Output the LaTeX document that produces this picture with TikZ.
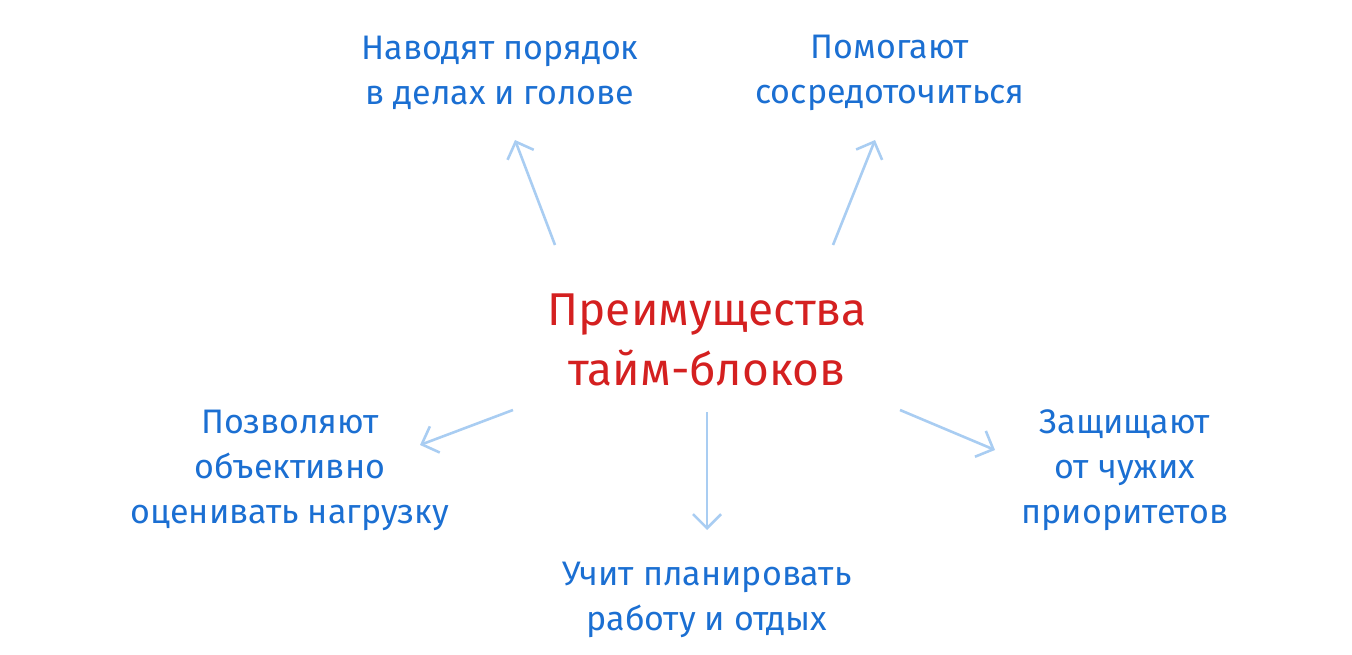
\documentclass[tikz,border=0pt]{standalone}
\usepackage{fontspec}
\setmainfont{Fira Sans}
\usetikzlibrary{arrows.meta}
\definecolor{bl}{HTML}{1B6FD2}
\definecolor{rd}{HTML}{D42020}
\definecolor{ar}{HTML}{A9CDF2}
\begin{document}
\begin{tikzpicture}[x=1pt,y=-1pt,
  lbl/.style={text=bl,font=\fontsize{34}{45}\selectfont,align=center},
  main/.style={text=rd,font=\fontsize{46}{60}\selectfont,align=center},
  arr/.style={draw=ar,line width=2.6pt,-{Straight Barb[length=14pt,width=28pt,line width=2.6pt]}}]
\useasboundingbox (0,0) rectangle (1352,655);
\node[main] (c) at (707,340) {Преимущества\\тайм-блоков};
\node[lbl] (tl) at (500,73) {Наводят порядок\\в делах и голове};
\node[lbl] (tr) at (890,73) {Помогают\\сосредоточиться};
\node[lbl] (l) at (290,470) {Позволяют\\объективно\\оценивать нагрузку};
\node[lbl] (r) at (1125,470) {Защищают\\от чужих\\приоритетов};
\node[lbl] (b) at (707,600) {Учит планировать\\работу и отдых};
\coordinate (a1s) at (555,245); \coordinate (a1e) at (515,140);
\coordinate (a2s) at (833,245); \coordinate (a2e) at (875,140);
\coordinate (a3s) at (513,410); \coordinate (a3e) at (420,445);
\coordinate (a4s) at (900,410); \coordinate (a4e) at (995,450);
\coordinate (a5s) at (707,412); \coordinate (a5e) at (707,530);
\draw[arr] (a1s) -- (a1e);
\draw[arr] (a2s) -- (a2e);
\draw[arr] (a3s) -- (a3e);
\draw[arr] (a4s) -- (a4e);
\draw[arr] (a5s) -- (a5e);
\end{tikzpicture}
\end{document}
